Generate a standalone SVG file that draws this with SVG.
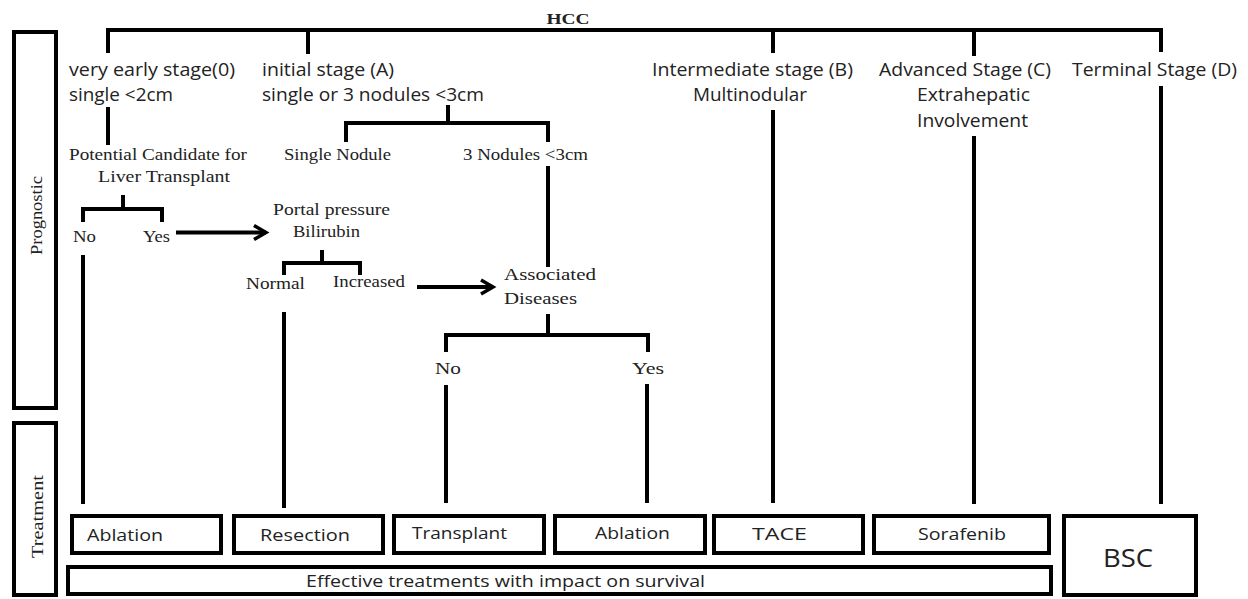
<svg xmlns="http://www.w3.org/2000/svg" width="1248" height="599" viewBox="0 0 1248 599">
<style>
.sans{font-family:"Open Sans","Liberation Sans",sans-serif;fill:#222;}
.serif{font-family:"Liberation Serif","DejaVu Serif",serif;fill:#222;}
.st{font-size:18px;}
.sr{font-size:17.5px;}
.bx{font-size:17px;}
.box{fill:#fff;stroke:#000;stroke-width:4;}
.ln{fill:none;stroke:#000;stroke-width:4;}
</style>
<defs>
<marker id="arr" markerUnits="userSpaceOnUse" markerWidth="20" markerHeight="20" refX="15" refY="9" orient="auto">
<path d="M3,2 L15,9 L3,16" fill="none" stroke="#000" stroke-width="3.5"/>
</marker>
</defs>
<rect width="1248" height="599" fill="#fff"/>

<g id="connectors">
<path class="ln" d="M108,53 V30 H1161 V52 M308,30 V54 M773,30 V53 M974,30 V56"/>
<path class="ln" d="M108,107 V145"/>
<path class="ln" d="M123,195 V209 M83,222 V209 H162 V222"/>
<path class="ln" d="M176,232.5 H266" marker-end="url(#arr)"/>
<path class="ln" d="M83,255 V504"/>
<path class="ln" d="M322,250 V263 M284,275 V263 H360 V275"/>
<path class="ln" d="M284,312 V508"/>
<path class="ln" d="M417,287 H493" marker-end="url(#arr)"/>
<path class="ln" d="M448,105 V123 M346,142 V123 H548 V142"/>
<path class="ln" d="M548,166 V267"/>
<path class="ln" d="M548,314 V335 M446,352 V335 H648 V352"/>
<path class="ln" d="M446,385 V503 M647,384 V503"/>
<path class="ln" d="M773,110 V503 M974,136 V504 M1161,86 V504"/>
</g>

<g id="hcc"><text x="568" y="24" text-anchor="middle" class="serif" style="font-size:15px;font-weight:bold" textLength="43" lengthAdjust="spacingAndGlyphs">HCC</text></g>

<g id="prognostic">
<rect class="box" x="14" y="32" width="42" height="376"/>
<text class="serif sr" transform="translate(42,255) rotate(-90)" textLength="79" lengthAdjust="spacingAndGlyphs">Prognostic</text>
</g>
<g id="treatment">
<rect class="box" x="14" y="423" width="42" height="172"/>
<text class="serif sr" transform="translate(43,558) rotate(-90)" textLength="83" lengthAdjust="spacingAndGlyphs">Treatment</text>
</g>

<g id="stage0">
<text class="sans st" x="69" y="76" textLength="166" lengthAdjust="spacingAndGlyphs">very early stage(0)</text>
<text class="sans st" x="69" y="101" textLength="104" lengthAdjust="spacingAndGlyphs">single &lt;2cm</text>
</g>
<g id="stageA">
<text class="sans st" x="262" y="76" textLength="132" lengthAdjust="spacingAndGlyphs">initial stage (A)</text>
<text class="sans st" x="262" y="101" textLength="222" lengthAdjust="spacingAndGlyphs">single or 3 nodules &lt;3cm</text>
</g>
<g id="stageB">
<text class="sans st" x="652" y="76" textLength="201" lengthAdjust="spacingAndGlyphs">Intermediate stage (B)</text>
<text class="sans st" x="693" y="101" textLength="114" lengthAdjust="spacingAndGlyphs">Multinodular</text>
</g>
<g id="stageC">
<text class="sans st" x="879" y="76" textLength="172" lengthAdjust="spacingAndGlyphs">Advanced Stage (C)</text>
<text class="sans st" x="917" y="101" textLength="113" lengthAdjust="spacingAndGlyphs">Extrahepatic</text>
<text class="sans st" x="917" y="127" textLength="111" lengthAdjust="spacingAndGlyphs">Involvement</text>
</g>
<g id="stageD">
<text class="sans st" x="1072" y="76" textLength="165" lengthAdjust="spacingAndGlyphs">Terminal Stage (D)</text>
</g>

<g id="candidate">
<text class="serif sr" x="69" y="160" textLength="178" lengthAdjust="spacingAndGlyphs">Potential Candidate for</text>
<text class="serif sr" x="98" y="182" textLength="132" lengthAdjust="spacingAndGlyphs">Liver Transplant</text>
</g>
<g id="no1"><text class="serif sr" x="73" y="242" textLength="23" lengthAdjust="spacingAndGlyphs">No</text></g>
<g id="yes1"><text class="serif sr" x="143" y="242" textLength="27" lengthAdjust="spacingAndGlyphs">Yes</text></g>
<g id="single-nodule"><text class="serif sr" x="284" y="160" textLength="107" lengthAdjust="spacingAndGlyphs">Single Nodule</text></g>
<g id="three-nodules"><text class="serif sr" x="463" y="160" textLength="125" lengthAdjust="spacingAndGlyphs">3 Nodules &lt;3cm</text></g>
<g id="portal">
<text class="serif sr" x="273" y="215" textLength="117" lengthAdjust="spacingAndGlyphs">Portal pressure</text>
<text class="serif sr" x="293" y="237" textLength="67" lengthAdjust="spacingAndGlyphs">Bilirubin</text>
</g>
<g id="normal"><text class="serif sr" x="246" y="289" textLength="59" lengthAdjust="spacingAndGlyphs">Normal</text></g>
<g id="increased"><text class="serif sr" x="333" y="287" textLength="72" lengthAdjust="spacingAndGlyphs">Increased</text></g>
<g id="associated">
<text class="serif sr" x="504" y="280" textLength="92" lengthAdjust="spacingAndGlyphs">Associated</text>
<text class="serif sr" x="504" y="304" textLength="73" lengthAdjust="spacingAndGlyphs">Diseases</text>
</g>
<g id="no2"><text class="serif sr" x="435" y="374" textLength="26" lengthAdjust="spacingAndGlyphs">No</text></g>
<g id="yes2"><text class="serif sr" x="632" y="374" textLength="32" lengthAdjust="spacingAndGlyphs">Yes</text></g>

<g id="ablation1">
<rect class="box" x="72" y="516" width="149" height="37"/>
<text class="sans bx" x="87" y="541" textLength="76" lengthAdjust="spacingAndGlyphs">Ablation</text>
</g>
<g id="resection">
<rect class="box" x="234" y="516" width="149" height="37"/>
<text class="sans bx" x="260" y="541" textLength="90" lengthAdjust="spacingAndGlyphs">Resection</text>
</g>
<g id="transplant">
<rect class="box" x="394" y="516" width="150" height="37"/>
<text class="sans bx" x="412" y="539" textLength="95" lengthAdjust="spacingAndGlyphs">Transplant</text>
</g>
<g id="ablation2">
<rect class="box" x="555" y="516" width="150" height="37"/>
<text class="sans bx" x="595" y="539" textLength="75" lengthAdjust="spacingAndGlyphs">Ablation</text>
</g>
<g id="tace">
<rect class="box" x="714" y="516" width="149" height="37"/>
<text class="sans bx" x="752" y="540" textLength="55" lengthAdjust="spacingAndGlyphs">TACE</text>
</g>
<g id="sorafenib">
<rect class="box" x="874" y="516" width="175" height="37"/>
<text class="sans bx" x="918" y="540" textLength="88" lengthAdjust="spacingAndGlyphs">Sorafenib</text>
</g>
<g id="bsc">
<rect class="box" x="1064" y="516" width="132" height="79"/>
<text class="sans" style="font-size:25px" x="1103" y="567" textLength="50" lengthAdjust="spacingAndGlyphs">BSC</text>
</g>
<g id="effective">
<rect class="box" x="68" y="567" width="983" height="27"/>
<text class="sans bx" x="306" y="587" textLength="399" lengthAdjust="spacingAndGlyphs">Effective treatments with impact on survival</text>
</g>
</svg>
